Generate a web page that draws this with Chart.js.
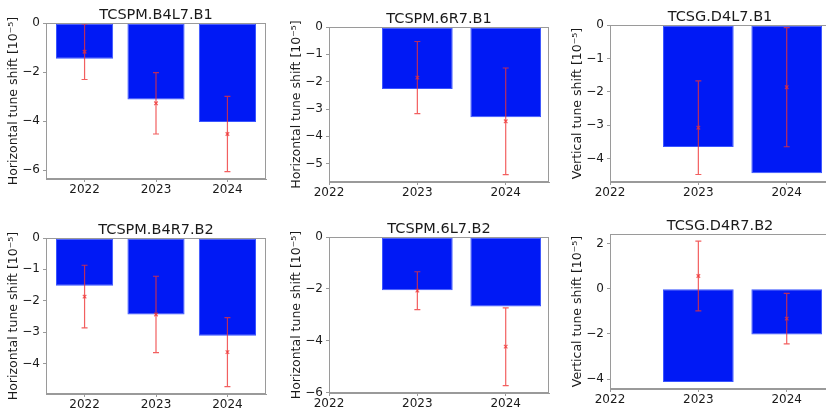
<!DOCTYPE html>
<html>
<head>
<meta charset="utf-8">
<script src="https://cdn.jsdelivr.net/npm/chart.js@4.4.1/dist/chart.umd.min.js"></script>
<style>
  html, body { margin: 0; padding: 0; background: #fff; width: 826px; height: 409px; overflow: hidden; }
  canvas { position: absolute; }
</style>
</head>
<body>
<canvas id="p1"></canvas>
<canvas id="p2"></canvas>
<canvas id="p3"></canvas>
<canvas id="p4"></canvas>
<canvas id="p5"></canvas>
<canvas id="p6"></canvas>
<script>
/* ── Data ─────────────────────────────────────────────── */
const YEARS_3 = [2022, 2023, 2024];
const YEARS_2 = [2023, 2024];
const X_TICKS = [2022, 2023, 2024];

// TCSPM.B4L7.B1
const B4L7_B1_BAR  = [-1.46, -3.12, -4.03];
const B4L7_B1_MEAS = [-1.17, -3.27, -4.52];
const B4L7_B1_ERR  = [1.13, 1.25, 1.53];
const B4L7_B1_YTICKS = [0, -2, -4, -6];

// TCSPM.6R7.B1
const R6R7_B1_BAR  = [-2.27, -3.30];
const R6R7_B1_MEAS = [-1.85, -3.45];
const R6R7_B1_ERR  = [1.32, 1.95];
const R6R7_B1_YTICKS = [0, -1, -2, -3, -4, -5];

// TCSG.D4L7.B1
const D4L7_B1_BAR  = [-3.65, -4.43];
const D4L7_B1_MEAS = [-3.07, -1.86];
const D4L7_B1_ERR  = [1.40, 1.78];
const D4L7_B1_YTICKS = [0, -1, -2, -3, -4];

// TCSPM.B4R7.B2
const B4R7_B2_BAR  = [-1.52, -2.44, -3.12];
const B4R7_B2_MEAS = [-1.87, -2.44, -3.64];
const B4R7_B2_ERR  = [1.00, 1.22, 1.10];
const B4R7_B2_YTICKS = [0, -1, -2, -3, -4];

// TCSPM.6L7.B2
const L6L7_B2_BAR  = [-2.05, -2.68];
const L6L7_B2_MEAS = [-2.07, -4.23];
const L6L7_B2_ERR  = [0.73, 1.50];
const L6L7_B2_YTICKS = [0, -2, -4, -6];

// TCSG.D4R7.B2
const D4R7_B2_BAR  = [-4.13, -2.03];
const D4R7_B2_MEAS = [0.57, -1.32];
const D4R7_B2_ERR  = [1.55, 1.12];
const D4R7_B2_YTICKS = [2, 0, -2, -4];

const H_LABEL = 'Horizontal tune shift [10⁻⁵]';
const V_LABEL = 'Vertical tune shift [10⁻⁵]';

/* ── Style ────────────────────────────────────────────── */
const FONT      = "'DejaVu Sans', sans-serif";
const TEXT      = '#1a1a1a';
const SPINE     = '#9a9a9a';
const BAR_COLOR = '#0019f5';
const BAR_EDGE  = '#3a55ff';
const ERR_COLOR = 'rgba(238,50,50,0.78)';

const LEFT_W = 46, TOP_H = 23, BOTTOM_H = 22, RIGHT_PAD = 24;

const panels = [
  { id: 'p1', title: 'TCSPM.B4L7.B1', ylabel: H_LABEL, years: YEARS_3, bar: B4L7_B1_BAR, meas: B4L7_B1_MEAS, err: B4L7_B1_ERR, yticks: B4L7_B1_YTICKS, area: [46, 23, 266, 179] },
  { id: 'p2', title: 'TCSPM.6R7.B1',  ylabel: H_LABEL, years: YEARS_2, bar: R6R7_B1_BAR,  meas: R6R7_B1_MEAS,  err: R6R7_B1_ERR,  yticks: R6R7_B1_YTICKS,  area: [329, 27, 549, 182] },
  { id: 'p3', title: 'TCSG.D4L7.B1',  ylabel: V_LABEL, years: YEARS_2, bar: D4L7_B1_BAR,  meas: D4L7_B1_MEAS,  err: D4L7_B1_ERR,  yticks: D4L7_B1_YTICKS,  area: [610, 25, 830, 182] },
  { id: 'p4', title: 'TCSPM.B4R7.B2', ylabel: H_LABEL, years: YEARS_3, bar: B4R7_B2_BAR, meas: B4R7_B2_MEAS, err: B4R7_B2_ERR, yticks: B4R7_B2_YTICKS, area: [46, 238, 266, 394] },
  { id: 'p5', title: 'TCSPM.6L7.B2',  ylabel: H_LABEL, years: YEARS_2, bar: L6L7_B2_BAR,  meas: L6L7_B2_MEAS,  err: L6L7_B2_ERR,  yticks: L6L7_B2_YTICKS,  area: [329, 237, 549, 393] },
  { id: 'p6', title: 'TCSG.D4R7.B2',  ylabel: V_LABEL, years: YEARS_2, bar: D4R7_B2_BAR,  meas: D4R7_B2_MEAS,  err: D4R7_B2_ERR,  yticks: D4R7_B2_YTICKS,  area: [610, 234, 830, 389] },
];

/* ── Helpers ──────────────────────────────────────────── */
const fmtNum = v => (v < 0 ? '\u2212' + Math.abs(v) : String(v));

// matplotlib-like autoscale: 5% margins, sticky at the bar base (0), x ticks included
function yLimits(p) {
  const lows  = p.meas.map((m, i) => m - p.err[i]).concat(p.bar, [0]);
  const highs = p.meas.map((m, i) => m + p.err[i]).concat(p.bar, [0]);
  let lo = Math.min(...lows), hi = Math.max(...highs);
  const m = 0.05 * (hi - lo);
  return { min: lo - m < 0 && lo === 0 ? 0 : lo - m, max: hi === 0 ? 0 : hi + m };
}
function xLimits(p) {
  const lo = Math.min(...p.years) - 0.4, hi = Math.max(...p.years) + 0.4;
  const m = 0.05 * (hi - lo);
  return { min: Math.min(lo - m, ...X_TICKS), max: Math.max(hi + m, ...X_TICKS) };
}

function errorBarPlugin(p) {
  return {
    id: 'errorBars',
    afterDatasetsDraw(chart) {
      const { ctx, scales: { x, y } } = chart;
      ctx.save();
      ctx.strokeStyle = ERR_COLOR;
      ctx.lineWidth = 1.2;
      p.meas.forEach((c, i) => {
        const px  = x.getPixelForValue(p.years[i]);
        const top = y.getPixelForValue(c + p.err[i]);
        const bot = y.getPixelForValue(c - p.err[i]);
        ctx.beginPath();
        ctx.moveTo(px, top); ctx.lineTo(px, bot);
        ctx.moveTo(px - 3, top); ctx.lineTo(px + 3, top);
        ctx.moveTo(px - 3, bot); ctx.lineTo(px + 3, bot);
        ctx.stroke();
      });
      ctx.restore();
    },
  };
}

const framePlugin = {
  id: 'frame',
  afterDraw(chart) {
    const { ctx, chartArea: a } = chart;
    ctx.save();
    ctx.strokeStyle = SPINE;
    ctx.lineWidth = 1;
    ctx.strokeRect(Math.round(a.left) + 0.5, Math.round(a.top) + 0.5,
                   Math.round(a.right - a.left) - 1, Math.round(a.bottom - a.top) - 1);
    ctx.restore();
  },
};

/* ── Build charts ─────────────────────────────────────── */
panels.forEach(p => {
  const [L, T, R, B] = p.area;
  const cv = document.getElementById(p.id);
  cv.width  = LEFT_W + (R - L) + RIGHT_PAD;
  cv.height = TOP_H + (B - T) + BOTTOM_H;
  cv.style.left = (L - LEFT_W) + 'px';
  cv.style.top  = (T - TOP_H) + 'px';

  const yl = yLimits(p), xl = xLimits(p);

  new Chart(cv, {
    type: 'bar',
    data: {
      datasets: [
        {
          type: 'scatter',
          order: 0,
          data: p.meas.map((v, i) => ({ x: p.years[i], y: v })),
          pointStyle: 'crossRot',
          pointRadius: 2.5,
          borderColor: ERR_COLOR,
          backgroundColor: ERR_COLOR,
          borderWidth: 1.2,
        },
        {
          type: 'bar',
          order: 1,
          data: p.bar.map((v, i) => ({ x: p.years[i], y: v })),
          backgroundColor: BAR_COLOR,
          borderColor: BAR_EDGE,
          borderWidth: 1,
          borderSkipped: false,
          categoryPercentage: 1,
          barPercentage: 0.8,
        },
      ],
    },
    options: {
      responsive: false,
      animation: false,
      devicePixelRatio: 1,
      layout: { padding: { left: 0, top: 0, right: RIGHT_PAD, bottom: 0 } },
      plugins: {
        legend: { display: false },
        tooltip: { enabled: false },
        title: {
          display: true,
          text: p.title,
          fullSize: false,
          color: TEXT,
          font: { family: FONT, size: 14.5, weight: 'normal', lineHeight: 1 },
          padding: { top: 8, bottom: 0.5 },
        },
      },
      scales: {
        x: {
          type: 'linear',
          min: xl.min,
          max: xl.max,
          offset: false,
          grid: { display: true, drawOnChartArea: false, drawTicks: true, tickLength: 3, color: SPINE, offset: false },
          border: { display: true, color: SPINE },
          ticks: { color: TEXT, font: { family: FONT, size: 12 }, padding: 1, maxRotation: 0, callback: v => String(v) },
          afterBuildTicks: s => { s.ticks = X_TICKS.map(v => ({ value: v })); },
          afterFit: s => { s.height = BOTTOM_H; },
        },
        y: {
          min: yl.min,
          max: yl.max,
          grid: { display: true, drawOnChartArea: false, drawTicks: true, tickLength: 3, color: SPINE },
          border: { display: true, color: SPINE },
          ticks: { color: TEXT, font: { family: FONT, size: 12 }, padding: 3, callback: v => fmtNum(v) },
          title: { display: true, text: p.ylabel, color: TEXT, font: { family: FONT, size: 12.5 }, padding: { top: 6, bottom: 0 } },
          afterBuildTicks: s => { s.ticks = p.yticks.map(v => ({ value: v })); },
          afterFit: s => { s.width = LEFT_W; },
        },
      },
    },
    plugins: [errorBarPlugin(p), framePlugin],
  });
});
</script>
</body>
</html>
